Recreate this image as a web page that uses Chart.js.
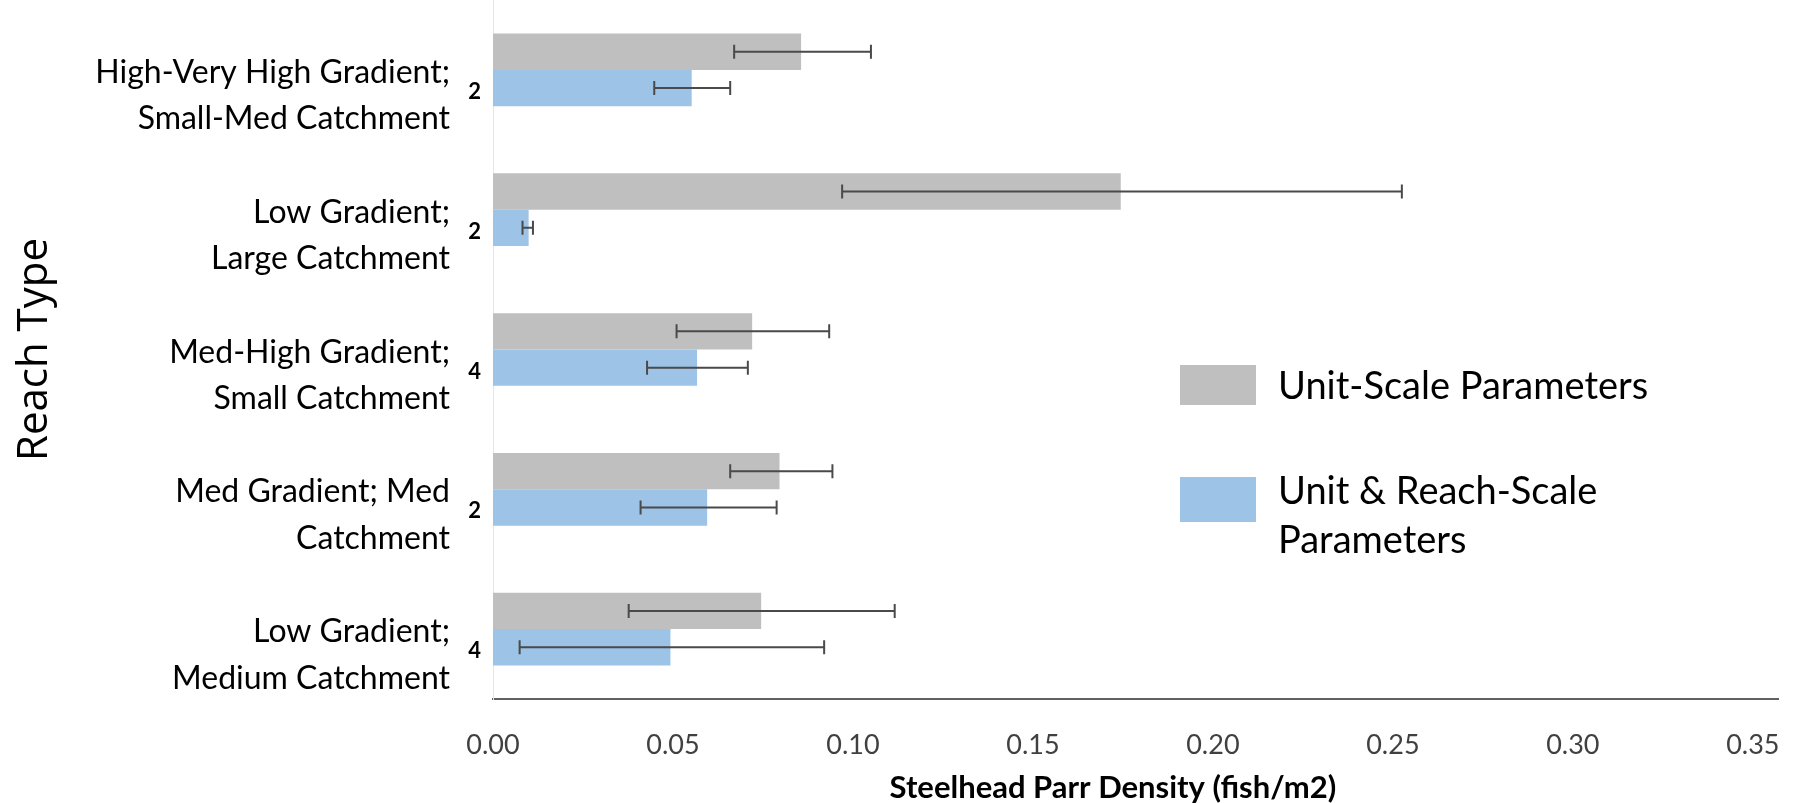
<!DOCTYPE html>
<html>
<head>
<meta charset="utf-8">
<script src="https://cdn.jsdelivr.net/npm/chart.js@4.4.1/dist/chart.umd.min.js"></script>
<style>
  html, body { margin: 0; padding: 0; background: #fff; }
  #wrap { width: 1797px; height: 803px; }
</style>
</head>
<body>
<div id="wrap"><canvas id="parrChart"></canvas></div>
<script>
    // Reach types (two-line labels) and sample sizes
    const reachTypes = [
        ['High-Very High Gradient;', 'Small-Med Catchment'],
        ['Low Gradient;', 'Large Catchment'],
        ['Med-High Gradient;', 'Small Catchment'],
        ['Med Gradient; Med', 'Catchment'],
        ['Low Gradient;', 'Medium Catchment']
    ];
    const sampleSizes = ['2', '2', '4', '2', '4'];

    // Unit-scale parameter model: mean and error bar ends
    const unitScale   = [0.0856, 0.1744, 0.0720, 0.0796, 0.0745];
    const unitScaleLo = [0.0670, 0.0970, 0.0510, 0.0659, 0.0377];
    const unitScaleHi = [0.1050, 0.2525, 0.0934, 0.0943, 0.1116];

    // Unit & reach-scale parameter model
    const unitReach   = [0.0552, 0.0099, 0.0567, 0.0595, 0.0493];
    const unitReachLo = [0.0448, 0.0082, 0.0428, 0.0410, 0.0074];
    const unitReachHi = [0.0659, 0.0111, 0.0708, 0.0788, 0.0920];

    const xTicks = [0, 0.05, 0.10, 0.15, 0.20, 0.25, 0.30, 0.35];

    const seriesNames = [['Unit-Scale Parameters'], ['Unit & Reach-Scale', 'Parameters']];
    const errLo = [unitScaleLo, unitReachLo];
    const errHi = [unitScaleHi, unitReachHi];

    // error bars drawn on top of the bars
    const errorBars = {
        id: 'errorBars',
        afterDatasetsDraw(chart) {
            const ctx = chart.ctx;
            const x = chart.scales.x;
            ctx.save();
            ctx.strokeStyle = '#4a4a4a';
            ctx.lineWidth = 2;
            chart.data.datasets.forEach((ds, d) => {
                const meta = chart.getDatasetMeta(d);
                meta.data.forEach((bar, i) => {
                    const x1 = x.getPixelForValue(errLo[d][i]);
                    const x2 = x.getPixelForValue(errHi[d][i]);
                    const y = bar.y;
                    const cap = 7;
                    ctx.beginPath();
                    ctx.moveTo(x1, y); ctx.lineTo(x2, y);
                    ctx.moveTo(x1, y - cap); ctx.lineTo(x1, y + cap);
                    ctx.moveTo(x2, y - cap); ctx.lineTo(x2, y + cap);
                    ctx.stroke();
                });
            });
            ctx.restore();
        }
    };

    // legend sitting inside the plot, to the right
    const boxLegend = {
        id: 'boxLegend',
        afterDraw(chart) {
            const ctx = chart.ctx;
            const boxes = [[1180, 365, 76, 40], [1180, 477, 76, 45]];
            const lines = [[399], [504, 553]];
            ctx.save();
            ctx.font = '38px Lato';
            ctx.textBaseline = 'alphabetic';
            ctx.textAlign = 'left';
            chart.data.datasets.forEach((ds, d) => {
                const b = boxes[d];
                ctx.fillStyle = ds.backgroundColor;
                ctx.fillRect(b[0], b[1], b[2], b[3]);
                ctx.fillStyle = '#000';
                seriesNames[d].forEach((t, k) => ctx.fillText(t, 1278, lines[d][k]));
            });
            ctx.restore();
        }
    };

    const noPad = (s) => { s.paddingTop = 0; s.paddingBottom = 0; };

    const ctx = document.getElementById('parrChart').getContext('2d');

    const myChart = new Chart(ctx, {
        type: 'bar',
        data: {
            labels: reachTypes,
            datasets: [{
                label: seriesNames[0].join(' '),
                data: unitScale,
                backgroundColor: '#bfbfbf'
            }, {
                label: seriesNames[1].join(' '),
                data: unitReach,
                backgroundColor: '#9dc3e6'
            }]
        },
        options: {
            indexAxis: 'y',
            responsive: true,
            maintainAspectRatio: false,
            animation: false,
            datasets: {
                bar: { categoryPercentage: 0.52, barPercentage: 1.0 }
            },
            layout: { padding: { top: 0, right: 19, bottom: 0, left: 0 } },
            plugins: {
                legend: { display: false },
                tooltip: { enabled: false }
            },
            scales: {
                x: {
                    min: 0,
                    max: 0.357,
                    afterBuildTicks: (s) => { s.ticks = xTicks.map(v => ({ value: v })); },
                    afterFit: (s) => { s.height = 104; s.paddingLeft = 0; s.paddingRight = 0; },
                    grid: { display: false, drawTicks: false },
                    border: { display: true, color: '#606060', width: 2 },
                    ticks: {
                        padding: 30,
                        color: '#404040',
                        font: { family: 'Lato', size: 27 },
                        callback: (v) => Number(v).toFixed(2)
                    },
                    title: {
                        display: true,
                        text: 'Steelhead Parr Density (fish/m2)      ',
                        color: '#000',
                        font: { family: 'Lato', size: 31, weight: 'bold', lineHeight: 1 },
                        padding: { top: 0, bottom: 0 }
                    }
                },
                y: {
                    position: 'left',
                    weight: 1,
                    afterFit: (s) => { s.width = 450; noPad(s); },
                    grid: { display: false, drawTicks: false },
                    border: { display: false },
                    ticks: {
                        padding: 0,
                        labelOffset: 26,
                        color: '#000',
                        font: { family: 'Lato', size: 32, lineHeight: 1.45 }
                    },
                    title: {
                        display: true,
                        text: 'Reach Type',
                        color: '#000',
                        font: { family: 'Open Sans', size: 42, lineHeight: 1.2 },
                        padding: { top: 10, bottom: 0 }
                    }
                },
                yN: {
                    type: 'category',
                    labels: sampleSizes,
                    position: 'left',
                    weight: 0,
                    offset: true,
                    afterFit: (s) => { s.width = 43; noPad(s); },
                    grid: { display: false, drawTicks: false },
                    border: { display: true, color: '#e6e6e6', width: 1 },
                    ticks: {
                        padding: 12,
                        labelOffset: 22,
                        color: '#000',
                        font: { family: 'Lato', size: 22, weight: 'bold' }
                    }
                }
            }
        },
        plugins: [errorBars, boxLegend]
    });
</script>
</body>
</html>
